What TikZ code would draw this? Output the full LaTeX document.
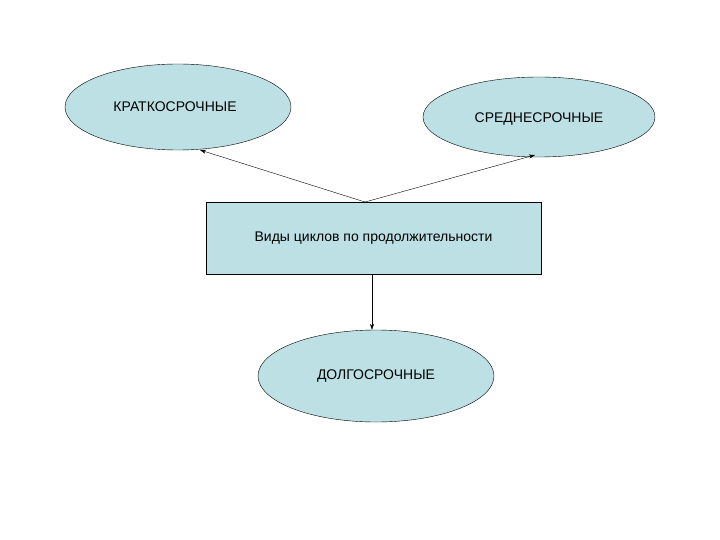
\documentclass[tikz,border=0pt]{standalone}
\usepackage{fontspec}
\setmainfont{Liberation Sans}
\usetikzlibrary{shapes.geometric,arrows.meta}
\definecolor{fillb}{RGB}{188,224,228}
\begin{document}
\begin{tikzpicture}[x=1pt,y=-1pt,
  ell/.style={ellipse,draw=black,fill=fillb,inner sep=0pt,font=\fontsize{14}{16}\selectfont},
  arr/.style={-{Stealth[length=6pt,width=4pt]},thin}]
\useasboundingbox (0,0) rectangle (720,540);
\node[ell,minimum width=226pt,minimum height=86pt] (k) at (178,107) {};
\node[font=\fontsize{14}{16}\selectfont] (kt) at (175,107) {КРАТКОСРОЧНЫЕ};
\node[ell,minimum width=232pt,minimum height=80pt] (s) at (539,117) {};
\node[font=\fontsize{14}{16}\selectfont] (st) at (539,119) {СРЕДНЕСРОЧНЫЕ};
\node[draw=black,fill=fillb,minimum width=335pt,minimum height=72pt,font=\fontsize{14}{16}\selectfont] (r) at (373.5,238) {Виды циклов по продолжительности};
\node[ell,minimum width=236pt,minimum height=92pt] (d) at (376,376) {};
\node[font=\fontsize{14}{16}\selectfont] (dt) at (376,376) {ДОЛГОСРОЧНЫЕ};
\coordinate (top) at (365,202);
\draw[arr] (top) -- (200,150);
\draw[arr] (top) -- (535,155);
\draw[arr] (372,274) -- (d.north -| 372,0);
\end{tikzpicture}
\end{document}
